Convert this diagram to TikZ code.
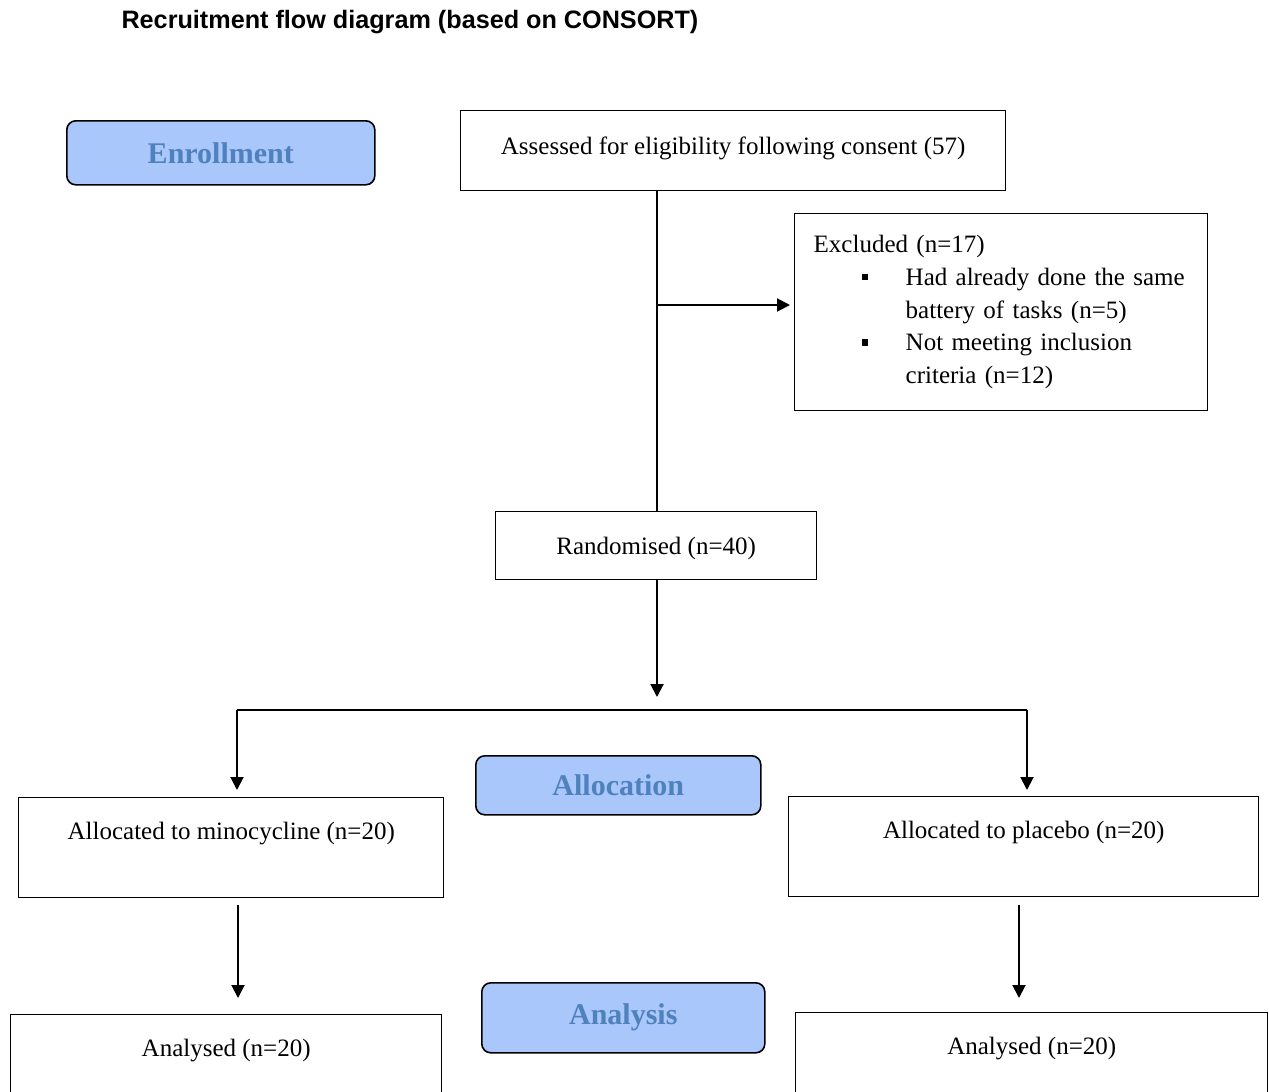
\documentclass[tikz,border=0pt]{standalone}
\usepackage{fontspec}
\setmainfont{Liberation Serif}
\newfontfamily\titlefont{Liberation Sans}
\usetikzlibrary{arrows.meta}
\definecolor{phasefill}{RGB}{169,199,250}
\definecolor{phasetext}{RGB}{79,129,189}
\newcommand{\bul}{\raisebox{5pt}{\rule{6.5pt}{6.5pt}}}
\begin{document}
\begin{tikzpicture}[x=1pt,y=-1pt,
  box/.style={draw, line width=1.4pt, rectangle, inner xsep=0pt, inner ysep=0pt,
    font=\fontsize{25}{29}\selectfont, anchor=north west},
  phase/.style={draw, line width=1.6pt, rounded corners=9pt, fill=phasefill,
    text=phasetext, font=\fontsize{30}{36}\selectfont\bfseries, inner sep=0pt,
    anchor=north west},
  line/.style={line width=2pt},
  arr/.style={line width=2pt, -{Triangle[length=13pt,width=13pt]}}]
\useasboundingbox (0,0) rectangle (1269,1092);
\clip (0,0) rectangle (1269,1092);

\node[anchor=base west, font=\titlefont\fontsize{25.2}{29}\selectfont\bfseries] (title) at (118,28)
  {Recruitment flow diagram (based on CONSORT)};

\node[phase, minimum width=308, minimum height=64] (enroll) at (66,120) {Enrollment};
\node[phase, minimum width=285, minimum height=59] (alloc) at (475,755) {Allocation};
\node[phase, minimum width=283, minimum height=70] (analysis) at (481,982) {Analysis};

\node[box, minimum width=545, text height=44pt, text depth=36pt] (assess) at (460,110)
  {Assessed for eligibility following consent (57)};
\node[box, minimum width=413, minimum height=197, text width=375pt, inner xsep=19pt,
  align=left, font=\fontsize{25}{32.75}\selectfont] (excl) at (794,213)
  {Excluded (n=17)\\
   \hspace*{48pt}\makebox[44pt][l]{\bul}Had already done the same\\
   \hspace*{92pt}battery of tasks (n=5)\\
   \hspace*{48pt}\makebox[44pt][l]{\bul}Not meeting inclusion\\
   \hspace*{92pt}criteria (n=12)};
\node[box, minimum width=321, text height=43pt, text depth=25pt] (rand) at (495,511)
  {Randomised (n=40)};
\node[box, minimum width=425, text height=42pt, text depth=58pt] (mino) at (18,797)
  {Allocated to minocycline (n=20)};
\node[box, minimum width=470, text height=42pt, text depth=58pt] (plac) at (788,796)
  {Allocated to placebo (n=20)};
\node[box, minimum width=431, text height=42pt, text depth=60pt] (anaL) at (10,1014)
  {Analysed (n=20)};
\node[box, minimum width=472, text height=42pt, text depth=60pt] (anaR) at (795,1012)
  {Analysed (n=20)};

\coordinate (br) at (657,305);
\coordinate (tip) at (657,697);
\coordinate (splitL) at (237,710);
\coordinate (splitR) at (1027,710);
\coordinate (colL) at (238,0);
\coordinate (colR) at (1019,0);

\draw[line, line width=2.4pt] (assess.south -| br) -- (rand.north -| br);
\draw[arr, shorten >=4pt] (br) -- (br -| excl.west);
\draw[arr] (rand.south -| tip) -- (tip);
\draw[line] (splitL) -- (splitR);
\draw[arr, shorten >=7pt] (splitL) -- (splitL |- mino.north);
\draw[arr, shorten >=6pt] (splitR) -- (splitR |- plac.north);
\draw[arr, shorten <=7pt, shorten >=16pt] (mino.south -| colL) -- (anaL.north -| colL);
\draw[arr, shorten <=8pt, shorten >=14pt] (plac.south -| colR) -- (anaR.north -| colR);
\end{tikzpicture}
\end{document}
